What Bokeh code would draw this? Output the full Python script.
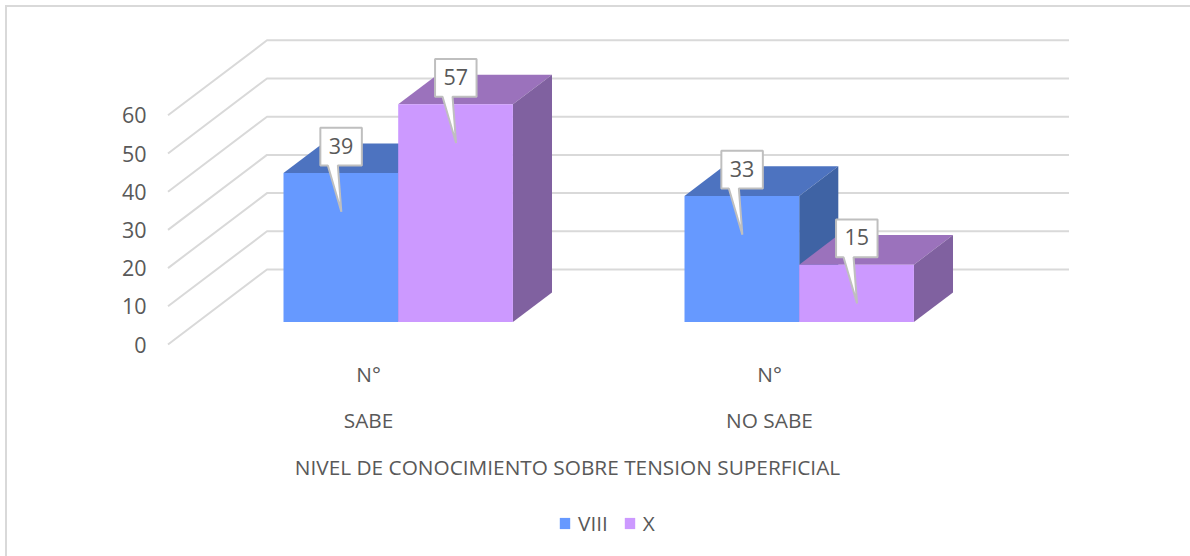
from bokeh.embed import file_html
from bokeh.models import FixedTicker, Legend, LegendItem, Range1d
from bokeh.plotting import figure
from bokeh.resources import INLINE
from bokeh.core.properties import value

# ---- data ----
categories = ["SABE", "NO SABE"]
sublabels = ["N°", "N°"]
series_names = ["VIII", "X"]
viii = [39, 33]
x_vals = [57, 15]
y_ticks = [0, 10, 20, 30, 40, 50, 60]
x_title = "NIVEL DE CONOCIMIENTO SOBRE TENSION SUPERFICIAL"

# ---- layout ----
W, H = 1190, 556
FRAME_L = 150
WALL_L = 167.5      # canvas x of the front-left corner of the floor
CAT_PX = 401.0      # px per category
VAL_PX = 3.82       # px per value unit
ZERO_Y = 344.0      # canvas y of value 0 at the front
DX, DY = 99 / CAT_PX, 75 / VAL_PX   # full depth of the 3D box, in data units
BAR_W = 114.7 / CAT_PX
BAR_D0, BAR_D1 = 0.30, 0.695        # bar's front/back depth as a share of the box

TEXT = "#595959"
GRID = "#d9d9d9"
FONT = "Open Sans"
FS = "20.8px"
FS_NUM = "21.5px"
colors = {"VIII": ("#6699ff", "#4d73c0", "#3f63a4"), "X": ("#cc99ff", "#9b72bc", "#8061a0")}


def px_x(px):
    return (px - WALL_L) / CAT_PX


def px_y(px):
    return (ZERO_Y - px) / VAL_PX


# the thin frame of the chart area sits on the page behind the transparent canvas border
frame_css = (f"linear-gradient({GRID},{GRID}) 5px 5px / 2px 551px no-repeat,"
             f"linear-gradient({GRID},{GRID}) 5px 5px / 1185px 2px no-repeat")

p = figure(width=W, height=H, output_backend="svg", toolbar_location=None,
           x_range=Range1d(px_x(FRAME_L), px_x(W)), y_range=Range1d(px_y(H), px_y(0)),
           x_axis_location=None, min_border_left=FRAME_L, min_border_right=0,
           min_border_top=0, min_border_bottom=0, outline_line_color=None,
           border_fill_color=None, background_fill_color=None,
           styles={"margin": "0", "background": frame_css})
p.grid.visible = False

ax = p.yaxis[0]
ax.ticker = FixedTicker(ticks=y_ticks)
ax.axis_line_color = None
ax.major_tick_line_color = None
ax.minor_tick_line_color = None
ax.major_tick_out = 0
ax.major_tick_in = 0
ax.major_label_standoff = 4
ax.major_label_text_font = FONT
ax.major_label_text_font_size = FS_NUM
ax.major_label_text_color = TEXT

# walls: diagonal on the side wall, then along the back wall
ncat = len(categories)
p.multi_line([[0, DX, ncat + DX] for _ in y_ticks],
             [[t, t + DY, t + DY] for t in y_ticks],
             line_color=GRID, line_width=2)

# bars
renderers = []
for s, (name, vals) in enumerate(zip(series_names, (viii, x_vals))):
    front, top, side = colors[name]
    xs, ys, fc = [], [], []
    centers, heights, bottoms = [], [], []
    for i, v in enumerate(vals):
        x0 = i + 0.5 + BAR_D0 * DX + (s - 1) * BAR_W
        x1 = x0 + BAR_W
        y0 = BAR_D0 * DY
        ddx, ddy = (BAR_D1 - BAR_D0) * DX, (BAR_D1 - BAR_D0) * DY
        y1 = y0 + v
        xs.append([x0, x1, x1 + ddx, x0 + ddx]); ys.append([y1, y1, y1 + ddy, y1 + ddy]); fc.append(top)
        xs.append([x1, x1 + ddx, x1 + ddx, x1]); ys.append([y0, y0 + ddy, y1 + ddy, y1]); fc.append(side)
        centers.append(x0 + BAR_W / 2); heights.append(y1); bottoms.append(y0)
    p.patches(xs, ys, fill_color=fc, line_color=None)
    r = p.vbar(x=centers, top=heights, bottom=bottoms, width=BAR_W, fill_color=front, line_color=None)
    renderers.append((name, r, centers, heights))

# data callouts: box above the bar's front top, tail pointing into the front face
cx, cy, ctext, cox, coy = [], [], [], [], []
for (name, r, centers, heights), vals in zip(renderers, (viii, x_vals)):
    for c, h, v in zip(centers, heights, vals):
        ux = 1 / CAT_PX
        uy = 1 / VAL_PX
        l, rr = c - 20.5 * ux, c + 21 * ux
        t, b = h + 45.2 * uy, h + 7.5 * uy
        cox.append([l, rr, rr, c - 3 * ux, c + 0.5 * ux, c - 13 * ux, l, l])
        coy.append([t, t, b, b, h - 38.7 * uy, b, b, t])
        cx.append((l + rr) / 2)
        cy.append((t + b) / 2)
        ctext.append(str(v))
p.patches(cox, coy, fill_color="white", line_color="#bfbfbf", line_width=2)
p.text(cx, cy, text=ctext, text_align="center", text_baseline="middle", y_offset=-1,
       text_font=value(FONT), text_font_size=FS_NUM, text_color=TEXT)

# category labels and axis title
cat_x = [i + 0.5 for i in range(ncat)]
kw = dict(text_align="center", text_baseline="middle", text_font=value(FONT),
          text_font_size=FS, text_color=TEXT)
p.text(cat_x, [px_y(373)] * ncat, text=sublabels, **kw)
p.text(cat_x, [px_y(419)] * ncat, text=categories, **kw)
p.text([px_x(567)], [px_y(466)], text=[x_title], **kw)

legend = Legend(items=[LegendItem(label=n, renderers=[r]) for n, r, _, _ in renderers],
                orientation="horizontal", location=(408, 19), padding=0, margin=0,
                background_fill_alpha=0, border_line_color=None, spacing=15,
                glyph_width=13, glyph_height=14, label_standoff=7,
                label_text_font=FONT, label_text_font_size=FS, label_text_color=TEXT)
p.add_layout(legend)

open("out.html", "w").write(file_html(p, INLINE))
